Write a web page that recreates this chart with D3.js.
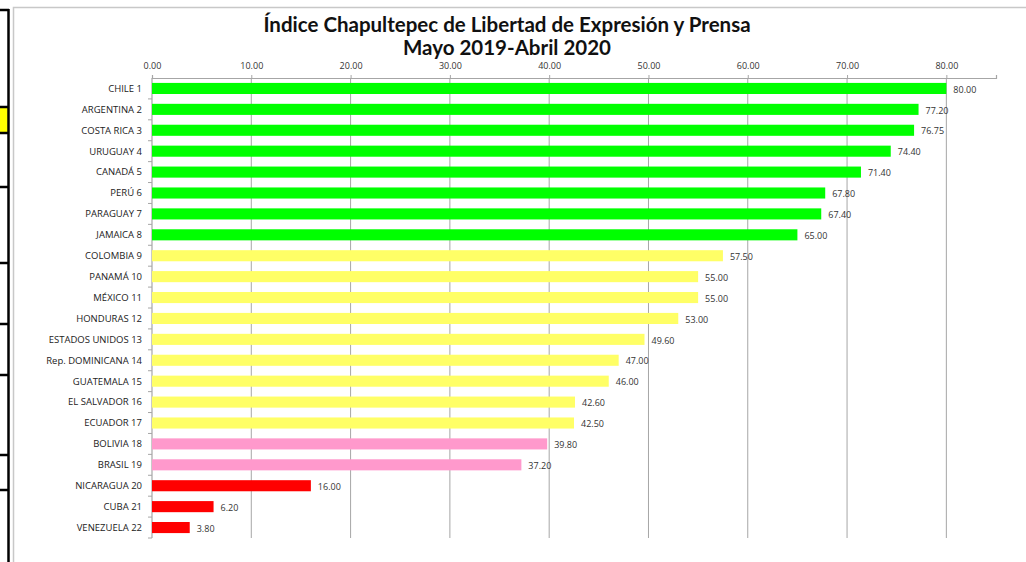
<!DOCTYPE html>
<html lang="es">
<head>
  <meta charset="UTF-8" />
  <title>Índice Chapultepec</title>
  <script src="https://d3js.org/d3.v7.min.js"></script>
  <style>
    body { margin: 0; background: #fff; font-family: "Open Sans", sans-serif; }
    svg { display: block; }
    .title { font-family: Lato, sans-serif; font-weight: bold; font-size: 20.5px; fill: #111; text-anchor: middle; }
    .cat { font-size: 9.5px; fill: #222; text-anchor: end; }
    .val { font-size: 9px; fill: #333; }
    .tick text { font-size: 9px; fill: #333; font-family: "Open Sans", sans-serif; }
  </style>
</head>
<body>
  <svg width="1026" height="562"></svg>

  <script>
    const paises = ["CHILE 1", "ARGENTINA 2", "COSTA RICA 3", "URUGUAY 4", "CANADÁ 5", "PERÚ 6",
      "PARAGUAY 7", "JAMAICA 8", "COLOMBIA 9", "PANAMÁ 10", "MÉXICO 11", "HONDURAS 12",
      "ESTADOS UNIDOS 13", "Rep. DOMINICANA 14", "GUATEMALA 15", "EL SALVADOR 16", "ECUADOR 17",
      "BOLIVIA 18", "BRASIL 19", "NICARAGUA 20", "CUBA 21", "VENEZUELA 22"];
    const valores = [80.00, 77.20, 76.75, 74.40, 71.40, 67.80, 67.40, 65.00, 57.50, 55.00, 55.00,
      53.00, 49.60, 47.00, 46.00, 42.60, 42.50, 39.80, 37.20, 16.00, 6.20, 3.80];
    const grupos = ["alta", "alta", "alta", "alta", "alta", "alta", "alta", "alta",
      "media", "media", "media", "media", "media", "media", "media", "media", "media",
      "baja", "baja", "nula", "nula", "nula"];
    const ticks = [0, 10, 20, 30, 40, 50, 60, 70, 80];

    const colorGrupo = {
      "alta": "#00ff00",
      "media": "#ffff66",
      "baja": "#ff99cc",
      "nula": "#ff0000"
    };

    const svg = d3.select("svg");

    // restos de la hoja a la izquierda
    const hoja = svg.append("g");
    hoja.append("rect").attr("x", 0).attr("y", 107).attr("width", 8).attr("height", 26).attr("fill", "#ffff00");
    [10, 107, 133, 187, 263, 324, 375, 455, 490].forEach(y => {
      hoja.append("line").attr("x1", 0).attr("x2", 9).attr("y1", y).attr("y2", y)
        .attr("stroke", "#000").attr("stroke-width", 2.5);
    });
    hoja.append("line").attr("x1", 8.5).attr("x2", 8.5).attr("y1", 9).attr("y2", 562)
      .attr("stroke", "#000").attr("stroke-width", 2.5);

    // marco del grafico
    svg.append("path").attr("d", "M13.5,562 V7.5 H1026")
      .attr("fill", "none").attr("stroke", "#c8c8c8").attr("stroke-width", 1.5);

    svg.append("text").attr("class", "title").attr("x", 507).attr("y", 32)
      .text("Índice Chapultepec de Libertad de Expresión y Prensa");
    svg.append("text").attr("class", "title").attr("x", 507).attr("y", 55)
      .text("Mayo 2019-Abril 2020");

    const x = d3.scaleLinear().domain([0, 85]).range([152, 996]);
    const y = d3.scaleBand().domain(paises).range([78, 538]).paddingInner(0.47).paddingOuter(0.235);
    const yPaso = d3.scaleBand().domain(paises).range([78, 538]);

    // rejilla
    svg.append("g").selectAll("line").data(ticks.slice(1)).join("line")
      .attr("x1", d => x(d)).attr("x2", d => x(d))
      .attr("y1", 78).attr("y2", 538)
      .attr("stroke", "#a6a6a6").attr("stroke-width", 1);

    // eje superior
    const ejeX = svg.append("g").attr("transform", "translate(0,78)")
      .call(d3.axisTop(x).tickValues(ticks).tickFormat(d3.format(".2f")).tickSize(3).tickPadding(6));
    ejeX.select(".domain").attr("stroke", "#a6a6a6").attr("stroke-width", 1.2);
    ejeX.selectAll(".tick line").attr("stroke", "#a6a6a6");

    // eje vertical
    svg.append("line").attr("x1", 152).attr("x2", 152).attr("y1", 78).attr("y2", 538)
      .attr("stroke", "#a6a6a6").attr("stroke-width", 1.2);
    svg.append("g").selectAll("line").data(paises).join("line")
      .attr("x1", 148).attr("x2", 152)
      .attr("y1", d => yPaso(d) + yPaso.bandwidth()).attr("y2", d => yPaso(d) + yPaso.bandwidth())
      .attr("stroke", "#a6a6a6");

    const datos = paises.map((p, i) => ({ pais: p, valor: valores[i], grupo: grupos[i] }));

    svg.append("g").selectAll("rect").data(datos).join("rect")
      .attr("x", x(0))
      .attr("y", d => y(d.pais))
      .attr("width", d => x(d.valor) - x(0))
      .attr("height", y.bandwidth())
      .attr("fill", d => colorGrupo[d.grupo]);

    svg.append("g").selectAll("text").data(datos).join("text")
      .attr("class", "val")
      .attr("x", d => x(d.valor) + 7)
      .attr("y", d => y(d.pais) + y.bandwidth() / 2 + 1)
      .attr("dy", "0.35em")
      .text(d => d.valor.toFixed(2));

    svg.append("g").selectAll("text").data(datos).join("text")
      .attr("class", "cat")
      .attr("x", 142)
      .attr("y", d => y(d.pais) + y.bandwidth() / 2)
      .attr("dy", "0.35em")
      .text(d => d.pais);
  </script>
</body>
</html>
